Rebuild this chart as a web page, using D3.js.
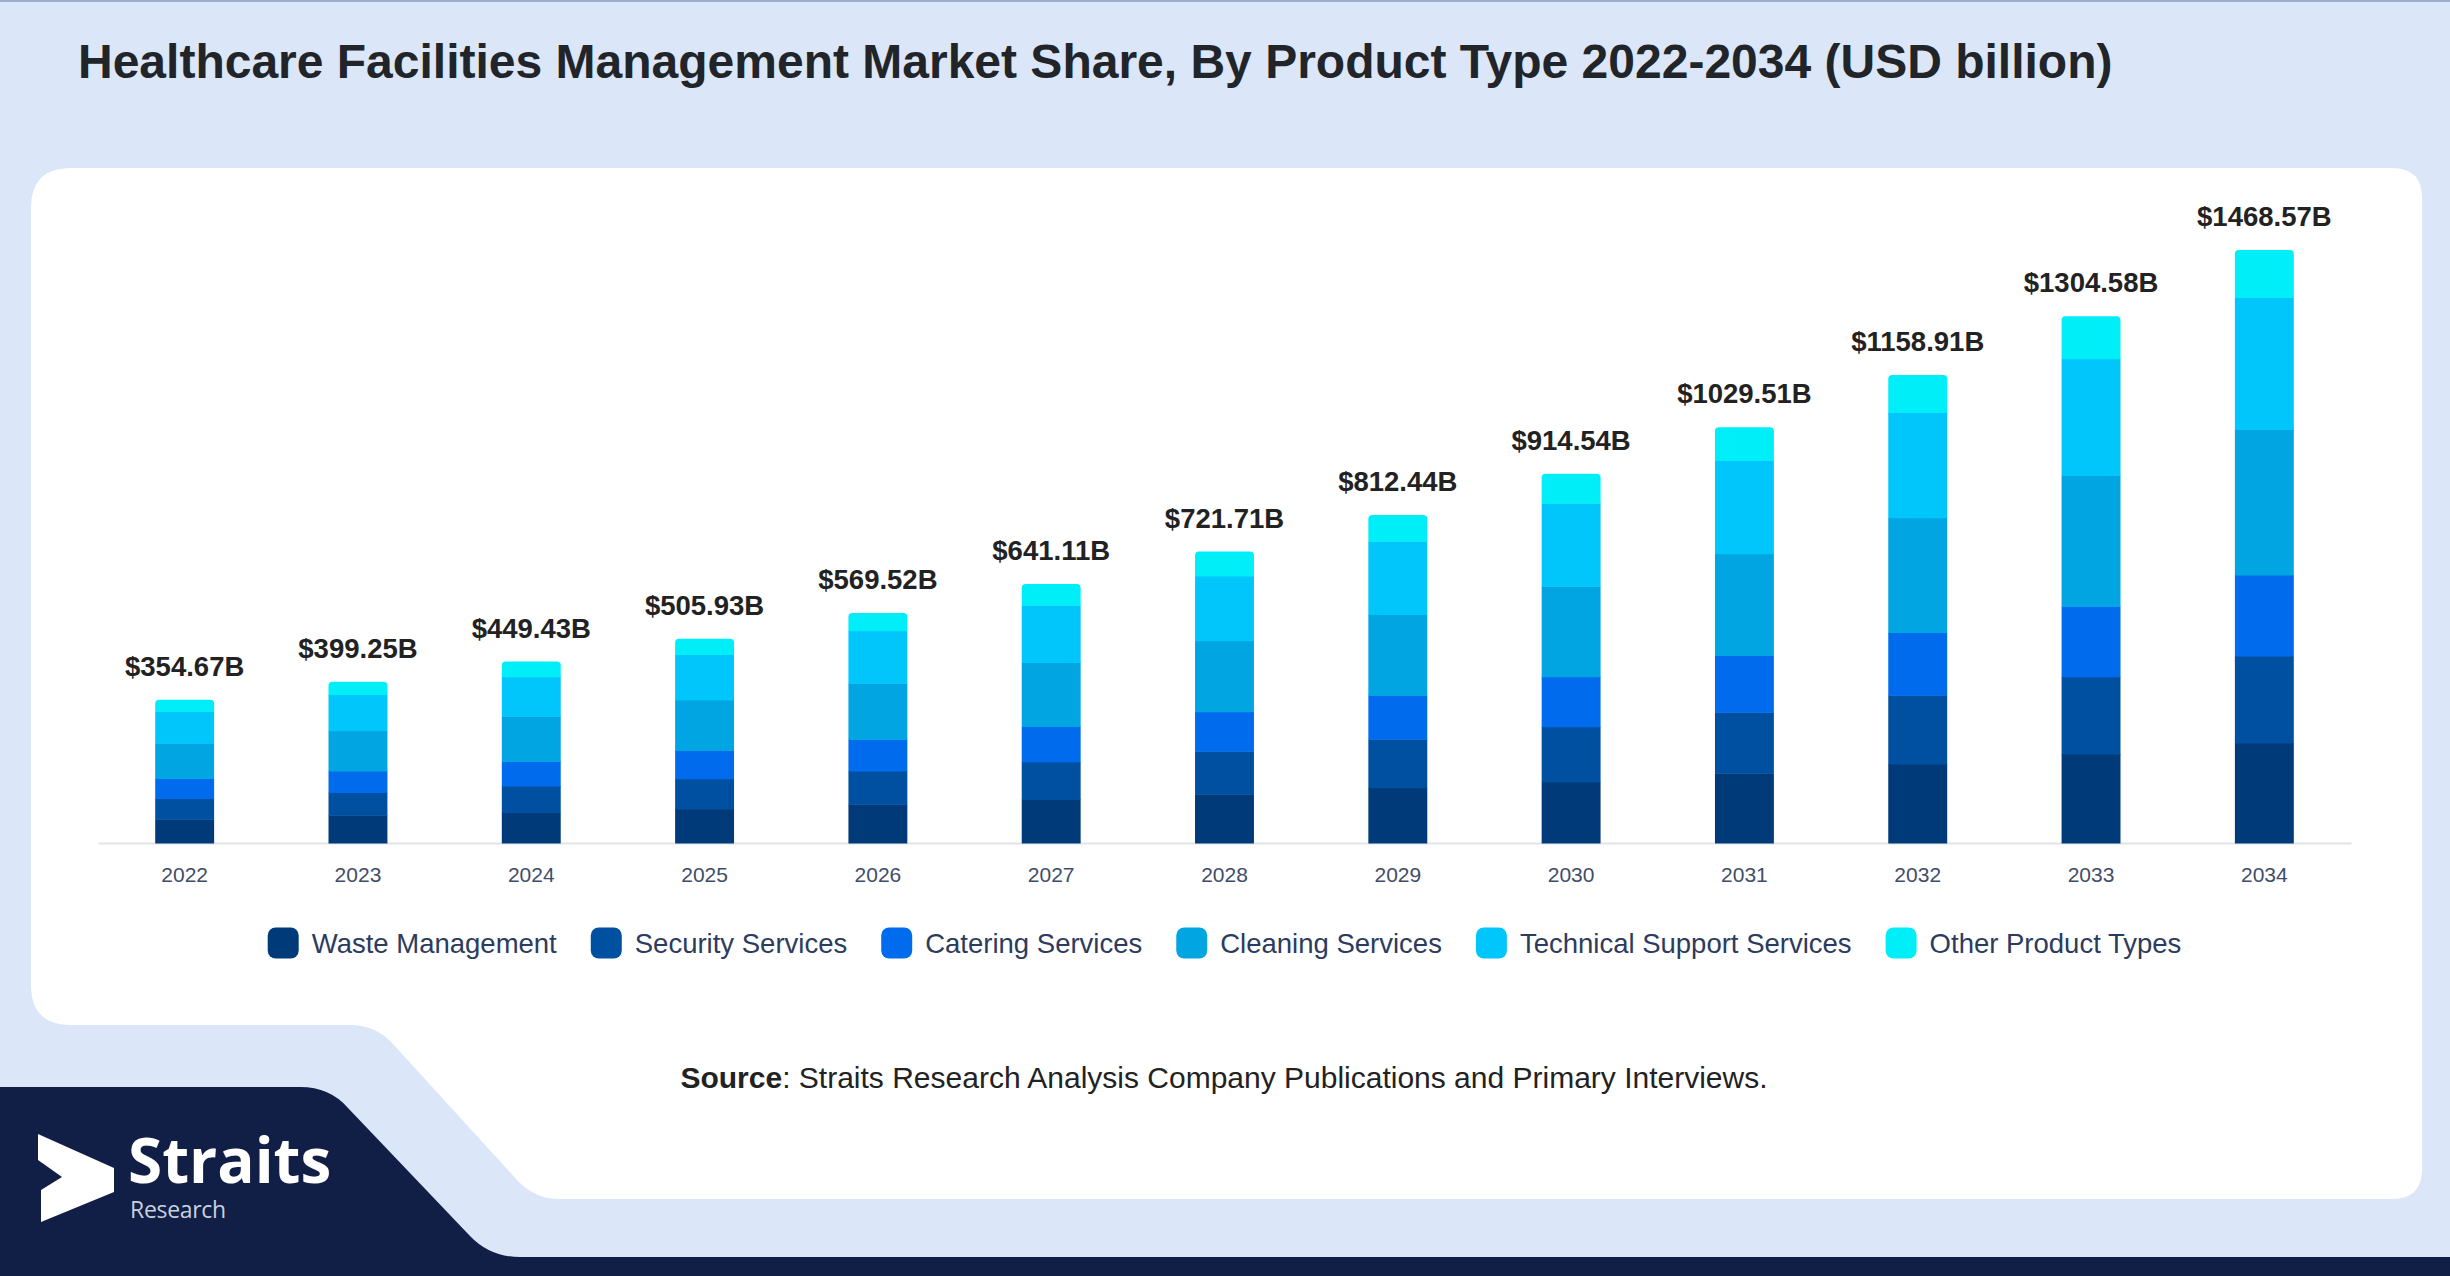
<!DOCTYPE html>
<html>
<head>
<meta charset="utf-8">
<script src="https://cdn.jsdelivr.net/npm/d3@7"></script>
<style>
  html, body { margin: 0; padding: 0; background: #dbe7f8; }
  svg { display: block; }
</style>
</head>
<body>
<div id="chart"></div>
<script>
const WIDTH = 2450;
const HEIGHT = 1276;
const PLOT = { LEFT: 98, RIGHT: 2351, BASE: 843 };

// data (USD billion)
const years = ["2022", "2023", "2024", "2025", "2026", "2027", "2028", "2029", "2030", "2031", "2032", "2033", "2034"];
const totals = [354.67, 399.25, 449.43, 505.93, 569.52, 641.11, 721.71, 812.44, 914.54, 1029.51, 1158.91, 1304.58, 1468.57];
const seriesNames = ["Waste Management", "Security Services", "Catering Services", "Cleaning Services", "Technical Support Services", "Other Product Types"];
const wasteManagement = [58.8, 68.9, 75.6, 84.0, 96.0, 107.8, 120.7, 136.7, 151.9, 173.0, 195.5, 220.6, 247.4];
const securityServices = [51.4, 56.4, 65.6, 74.9, 82.0, 93.7, 106.6, 120.1, 135.9, 151.1, 170.4, 190.9, 215.6];
const cateringServices = [49.7, 53.1, 60.6, 69.9, 78.6, 87.1, 97.6, 108.5, 124.2, 140.2, 155.3, 175.0, 200.7];
const cleaningServices = [87.0, 99.6, 112.1, 125.6, 139.1, 158.4, 176.1, 200.4, 224.0, 251.9, 284.5, 323.5, 361.0];
const technicalSupport = [78.7, 89.6, 98.0, 112.3, 130.0, 141.8, 160.4, 181.4, 205.6, 230.9, 260.2, 289.5, 327.1];
const otherTypes = [29.0, 31.5, 37.4, 39.1, 43.9, 52.3, 60.3, 65.4, 73.0, 82.3, 93.2, 105.0, 116.8];

const colors = ["#013a78", "#0050a2", "#006ced", "#00a5e2", "#00c6fb", "#00eef8"];

const seriesValues = [wasteManagement, securityServices, cateringServices, cleaningServices, technicalSupport, otherTypes];
const table = years.map((y, i) => {
  const row = { year: y, total: totals[i] };
  seriesNames.forEach((s, k) => (row[s] = seriesValues[k][i]));
  return row;
});

const svg = d3
  .select("#chart")
  .append("svg")
  .attr("width", WIDTH)
  .attr("height", HEIGHT)
  .style("font-family", "'Liberation Sans', Arial, sans-serif");

// background + frame shapes
svg.append("rect").attr("width", WIDTH).attr("height", HEIGHT).attr("fill", "#dbe7f8");
svg.append("rect").attr("width", WIDTH).attr("height", 2).attr("fill", "#9dadcc");

svg
  .append("path")
  .attr("fill", "#ffffff")
  .attr(
    "d",
    "M71,168 H2392 Q2422,168 2422,198 V1169 Q2422,1199 2392,1199 H560 Q535,1199 518,1181 " +
      "L393,1044 Q376,1025 350,1025 H71 Q31,1025 31,985 V208 Q31,168 71,168 Z"
  );

svg
  .append("path")
  .attr("fill", "#111e45")
  .attr("d", "M0,1087 H300 Q330,1087 348,1108 L470,1236 Q490,1257 520,1257 H2450 V1276 H0 Z");

// title
svg
  .append("text")
  .attr("x", 78)
  .attr("y", 78)
  .attr("font-size", 48)
  .attr("font-weight", "bold")
  .attr("fill", "#212529")
  .text("Healthcare Facilities Management Market Share, By Product Type 2022-2034 (USD billion)");

// scales
const xScale = d3
  .scaleBand()
  .domain(years)
  .range([PLOT.LEFT, PLOT.RIGHT])
  .paddingInner(0.66)
  .paddingOuter(0.33);

const yScale = d3.scaleLinear().domain([0, 1500]).range([PLOT.BASE, PLOT.BASE - 605.7]);

const stack = d3.stack().keys(seriesNames);
const stacked = stack(table);

const g = svg.append("g");

// x axis
const xAxisGroup = g
  .append("g")
  .attr("transform", `translate(0, ${PLOT.BASE})`)
  .call(d3.axisBottom(xScale).tickSize(0).tickPadding(24));
xAxisGroup.select(".domain").attr("stroke", "#e2e4e8").attr("stroke-width", 2);
xAxisGroup
  .selectAll("text")
  .attr("font-size", 21)
  .attr("fill", "#414d68")
  .attr("font-family", "'Liberation Sans', Arial, sans-serif");

// bars
const layers = g
  .selectAll(".layer")
  .data(stacked)
  .enter()
  .append("g")
  .attr("class", "layer")
  .attr("fill", (d, i) => colors[i]);

const lastIdx = seriesNames.length - 1;
const r = 4;

layers
  .selectAll("path")
  .data((d) => d.map((p) => ({ p, layer: d.index })))
  .enter()
  .append("path")
  .attr("d", (d) => {
    const x0 = xScale(d.p.data.year);
    const w = xScale.bandwidth();
    const yTop = yScale(d.p[1]);
    const yBot = yScale(d.p[0]) + 0.5;
    if (d.layer === lastIdx) {
      return `M${x0},${yBot} V${yTop + r} Q${x0},${yTop} ${x0 + r},${yTop} H${x0 + w - r} Q${x0 + w},${yTop} ${x0 + w},${yTop + r} V${yBot} Z`;
    }
    return `M${x0},${yBot} V${yTop} H${x0 + w} V${yBot} Z`;
  });

// total labels
g.selectAll(".total")
  .data(table)
  .enter()
  .append("text")
  .attr("class", "total")
  .attr("x", (d) => xScale(d.year) + xScale.bandwidth() / 2)
  .attr("y", (d) => yScale(d.total) - 24)
  .attr("text-anchor", "middle")
  .attr("font-size", 27.5)
  .attr("font-weight", "bold")
  .attr("fill", "#222222")
  .text((d) => `$${d.total.toFixed(2)}B`);

// legend
const legend = svg.append("g");
const SW = 31;
const items = legend
  .selectAll(".item")
  .data(seriesNames)
  .enter()
  .append("g")
  .attr("class", "item");

items
  .append("rect")
  .attr("width", SW)
  .attr("height", SW)
  .attr("rx", 8)
  .attr("y", -SW / 2)
  .attr("fill", (d, i) => colors[i]);

items
  .append("text")
  .attr("x", SW + 13)
  .attr("y", 10)
  .attr("font-size", 27.5)
  .attr("fill", "#2c3b5e")
  .text((d) => d);

let cursor = 0;
const offsets = [];
items.each(function (d, i) {
  const tw = d3.select(this).select("text").node().getComputedTextLength();
  offsets.push(cursor);
  cursor += SW + 13 + tw + (i < seriesNames.length - 1 ? 34 : 0);
});
const legendStart = (PLOT.LEFT + PLOT.RIGHT) / 2 - cursor / 2;
items.attr("transform", (d, i) => `translate(${legendStart + offsets[i]}, 943)`);

// source
const source = svg
  .append("text")
  .attr("x", 1224)
  .attr("y", 1088)
  .attr("text-anchor", "middle")
  .attr("font-size", 30)
  .attr("fill", "#222222");
source.append("tspan").attr("font-weight", "bold").text("Source");
source.append("tspan").text(": Straits Research Analysis Company Publications and Primary Interviews.");

// logo
const logo = svg.append("g");
logo
  .append("path")
  .attr("fill", "#ffffff")
  .attr("d", "M38,1134 L114,1168 L114,1192 L41,1222 L41,1190 L62,1177 L38,1160 Z");
logo
  .append("text")
  .attr("x", 128)
  .attr("y", 1183)
  .attr("font-family", "'Open Sans', sans-serif")
  .attr("font-weight", 700)
  .attr("font-size", 62)
  .attr("fill", "#ffffff")
  .text("Straits");
logo
  .append("text")
  .attr("x", 130)
  .attr("y", 1218)
  .attr("font-family", "'Open Sans', sans-serif")
  .attr("font-size", 23)
  .attr("fill", "#c9d0de")
  .attr("letter-spacing", -0.3)
  .text("Research");
</script>
</body>
</html>
